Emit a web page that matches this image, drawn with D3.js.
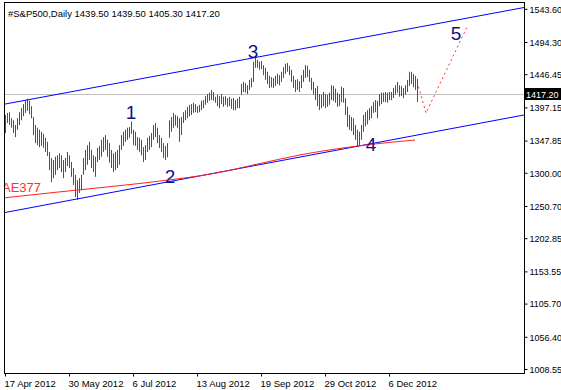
<!DOCTYPE html>
<html><head><meta charset="utf-8">
<script src="https://cdn.jsdelivr.net/npm/d3@7"></script>
<style>
html,body{margin:0;padding:0;background:#fff;}
svg{display:block;}
text{font-family:"Liberation Sans",Arial,sans-serif;}
</style></head>
<body><svg id="c" width="561" height="390"></svg>
<script>
// ---- data ----
const titleText = "#S&P500,Daily  1439.50 1439.50 1405.30 1417.20";
const lastClose = 1417.20;
const highs = [1386,1389,1390,1381,1378,1371,1381,1390,1396,1402,1407,1410,1407,1399,1383,1371,1367,1364,1361,1358,
1352,1346,1331,1322,1319,1324,1326,1329,1326,1319,1322,1331,1326,1316,1307,1297,1289,1292,1297,1322,
1334,1341,1346,1334,1326,1324,1337,1340,1349,1353,1356,1349,1344,1334,1329,1331,1334,1341,1356,1361,
1364,1367,1368,1376,1364,1361,1353,1352,1349,1338,1341,1352,1355,1359,1371,1374,1367,1356,1352,1344,
1340,1344,1378,1383,1389,1386,1384,1381,1383,1390,1393,1398,1401,1402,1404,1402,1399,1401,1407,1408,
1414,1417,1419,1423,1420,1413,1416,1414,1417,1413,1414,1411,1413,1410,1411,1408,1410,1413,1432,1435,
1433,1430,1438,1441,1465,1472,1468,1465,1466,1460,1456,1450,1444,1442,1441,1444,1447,1445,1450,1457,
1462,1463,1459,1453,1444,1438,1439,1436,1445,1453,1460,1459,1453,1441,1435,1426,1429,1417,1416,1420,
1417,1416,1419,1430,1429,1425,1419,1417,1428,1426,1411,1398,1386,1383,1381,1371,1364,1361,1371,1386,
1390,1393,1396,1399,1405,1408,1407,1417,1419,1419,1420,1419,1420,1420,1426,1430,1435,1430,1429,1426,
1430,1438,1450,1450,1447,1444,1439.5];
const lows = [1359,1374,1371,1367,1359,1353,1364,1371,1378,1384,1389,1392,1387,1381,1356,1344,1341,1338,1340,1337,
1331,1325,1304,1286,1292,1297,1304,1307,1301,1292,1301,1310,1307,1294,1282,1264,1260,1270,1274,1297,
1304,1312,1319,1307,1301,1294,1316,1319,1324,1331,1334,1324,1315,1307,1301,1304,1307,1312,1334,1340,
1346,1349,1352,1358,1341,1340,1334,1331,1326,1316,1319,1331,1334,1338,1349,1353,1344,1337,1331,1322,
1319,1323,1352,1361,1367,1370,1367,1346,1356,1374,1378,1381,1384,1386,1389,1390,1389,1390,1393,1396,
1401,1404,1407,1408,1407,1404,1399,1396,1402,1398,1401,1398,1399,1395,1393,1393,1396,1396,1416,1420,
1419,1417,1423,1427,1435,1456,1456,1453,1454,1445,1438,1432,1426,1427,1426,1429,1432,1430,1435,1441,
1447,1450,1445,1435,1426,1420,1423,1420,1426,1435,1441,1442,1435,1423,1416,1408,1399,1393,1396,1399,
1396,1398,1401,1408,1407,1404,1398,1399,1405,1404,1386,1368,1364,1362,1356,1349,1338,1341,1349,1361,
1369,1372,1378,1381,1389,1390,1381,1399,1402,1405,1405,1404,1408,1408,1411,1416,1419,1413,1414,1411,
1416,1420,1429,1432,1427,1423,1405.3];
const yTickValues = [1543.60,1494.30,1446.45,1397.15,1347.85,1300.00,1250.70,1202.85,1153.55,1105.70,1056.40,1008.55];
const xTickIndex = [0,32,64,96,128,160,192];
const xTickLabels = ["17 Apr 2012","30 May 2012","6 Jul 2012","13 Aug 2012","19 Sep 2012","29 Oct 2012","6 Dec 2012"];
// channel lines: [bar index, price] anchor pairs
const upperChannel = [[-2.5,1400.7],[259.5,1545.5]];
const lowerChannel = [[-2.5,1239.6],[259.5,1385.9]];
// moving average (red) read points
const maIndex = [-2.5,27.5,52.5,80,105,127.5,147.5,172.5,205];
const maValue = [1262.1,1271.7,1279.4,1288.6,1299.3,1313.8,1326.5,1338.3,1348.7];
const maLabel = "AE377";
// forecast dotted path
const forecastIndex = [206.75,210.5,231];
const forecastValue = [1427.9,1388.8,1516.6];
// wave labels
const waveText = ["1","2","3","4","5"];
const waveIndex = [63,82.5,124,183,225.5];
const waveValue = [1380.0,1284.9,1470.5,1332.4,1497.3];

// ---- chart ----
const svg = d3.select("#c");
const L=4, R=524, T=2, B=373;
const x = d3.scaleLinear().domain([-0.5,259.5]).range([L,R]);
const y = d3.scaleLinear().domain([1002.6,1553.7]).range([B,T]);

svg.append("defs").append("clipPath").attr("id","clip")
  .append("rect").attr("x",L).attr("y",T).attr("width",R-L).attr("height",B-T);
const plot = svg.append("g").attr("clip-path","url(#clip)");

// last price line
plot.append("line").attr("x1",L).attr("x2",R)
  .attr("y1",Math.round(y(lastClose))+0.5).attr("y2",Math.round(y(lastClose))+0.5)
  .attr("stroke","#c0c0c0").attr("stroke-width",1);

// bars
plot.append("g").selectAll("line").data(highs).join("line")
  .attr("x1",(d,i)=>x(i)+0.5).attr("x2",(d,i)=>x(i)+0.5)
  .attr("y1",d=>y(d)).attr("y2",(d,i)=>y(lows[i]))
  .attr("stroke","#505050").attr("stroke-width",1);

// channel lines extended across plot
function extLine(p){
  const [a,b]=p; const s=(b[1]-a[1])/(b[0]-a[0]);
  const x0=-0.5, x1=259.5;
  return [[x0,a[1]+s*(x0-a[0])],[x1,a[1]+s*(x1-a[0])]];
}
const ln = d3.line().x(d=>x(d[0])).y(d=>y(d[1]));
[upperChannel,lowerChannel].forEach(c=>{
  plot.append("path").attr("d",ln(extLine(c))).attr("fill","none")
    .attr("stroke","#0000ff").attr("stroke-width",1);
});

// moving average
const maPts = maIndex.map((d,i)=>[d,maValue[i]]);
plot.append("path").attr("d",d3.line().x(d=>x(d[0])).y(d=>y(d[1])).curve(d3.curveMonotoneX)(maPts))
  .attr("fill","none").attr("stroke","#ff2020").attr("stroke-width",1);
plot.append("text").attr("x",2).attr("y",y(maValue[0])-6).text(maLabel)
  .attr("fill","#ff3030").attr("font-size",13);

// forecast
const fPts = forecastIndex.map((d,i)=>[d,forecastValue[i]]);
plot.append("path").attr("d",ln(fPts)).attr("fill","none")
  .attr("stroke","#ff3030").attr("stroke-width",1).attr("stroke-dasharray","2,3");

// wave labels
plot.append("g").selectAll("text").data(waveText).join("text")
  .attr("x",(d,i)=>x(waveIndex[i])).attr("y",(d,i)=>y(waveValue[i]))
  .attr("text-anchor","middle").attr("font-size",19).attr("fill","#10108a").text(d=>d);

// frame
svg.append("rect").attr("x",L+0.5).attr("y",T+0.5).attr("width",R-L).attr("height",B-T)
  .attr("fill","none").attr("stroke","#000").attr("stroke-width",1);

// right axis
const ya = svg.append("g").attr("transform",`translate(${R+0.5},0)`)
  .call(d3.axisRight(y).tickValues(yTickValues).tickSize(3).tickPadding(2).tickFormat(d3.format(".2f")));
ya.select(".domain").remove();
ya.selectAll("text").attr("font-size",9).attr("fill","#000").attr("dy","0.36em").attr("font-family","Liberation Sans, Arial, sans-serif");
ya.selectAll("line").attr("stroke","#000");

// price label
const py = Math.round(y(lastClose));
svg.append("rect").attr("x",R+1).attr("y",py-6).attr("width",561-R-1).attr("height",12).attr("fill","#000");
svg.append("text").attr("x",R+2).attr("y",py+3.5).attr("fill","#fff").attr("font-size",9).text(d3.format(".2f")(lastClose));

// bottom axis
const xa = svg.append("g").attr("transform",`translate(0,${B+0.5})`)
  .call(d3.axisBottom(x).tickValues(xTickIndex).tickSize(3).tickPadding(4).tickFormat((d,i)=>xTickLabels[i]));
xa.select(".domain").remove();
xa.selectAll("line").attr("stroke","#000");
xa.selectAll("text").attr("text-anchor","start").attr("dx",-1).attr("font-size",9.5).attr("fill","#000").attr("font-family","Liberation Sans, Arial, sans-serif");

// title
svg.append("text").attr("x",8).attr("y",17).attr("font-size",9.5).attr("fill","#000").text(titleText);
</script></body></html>
